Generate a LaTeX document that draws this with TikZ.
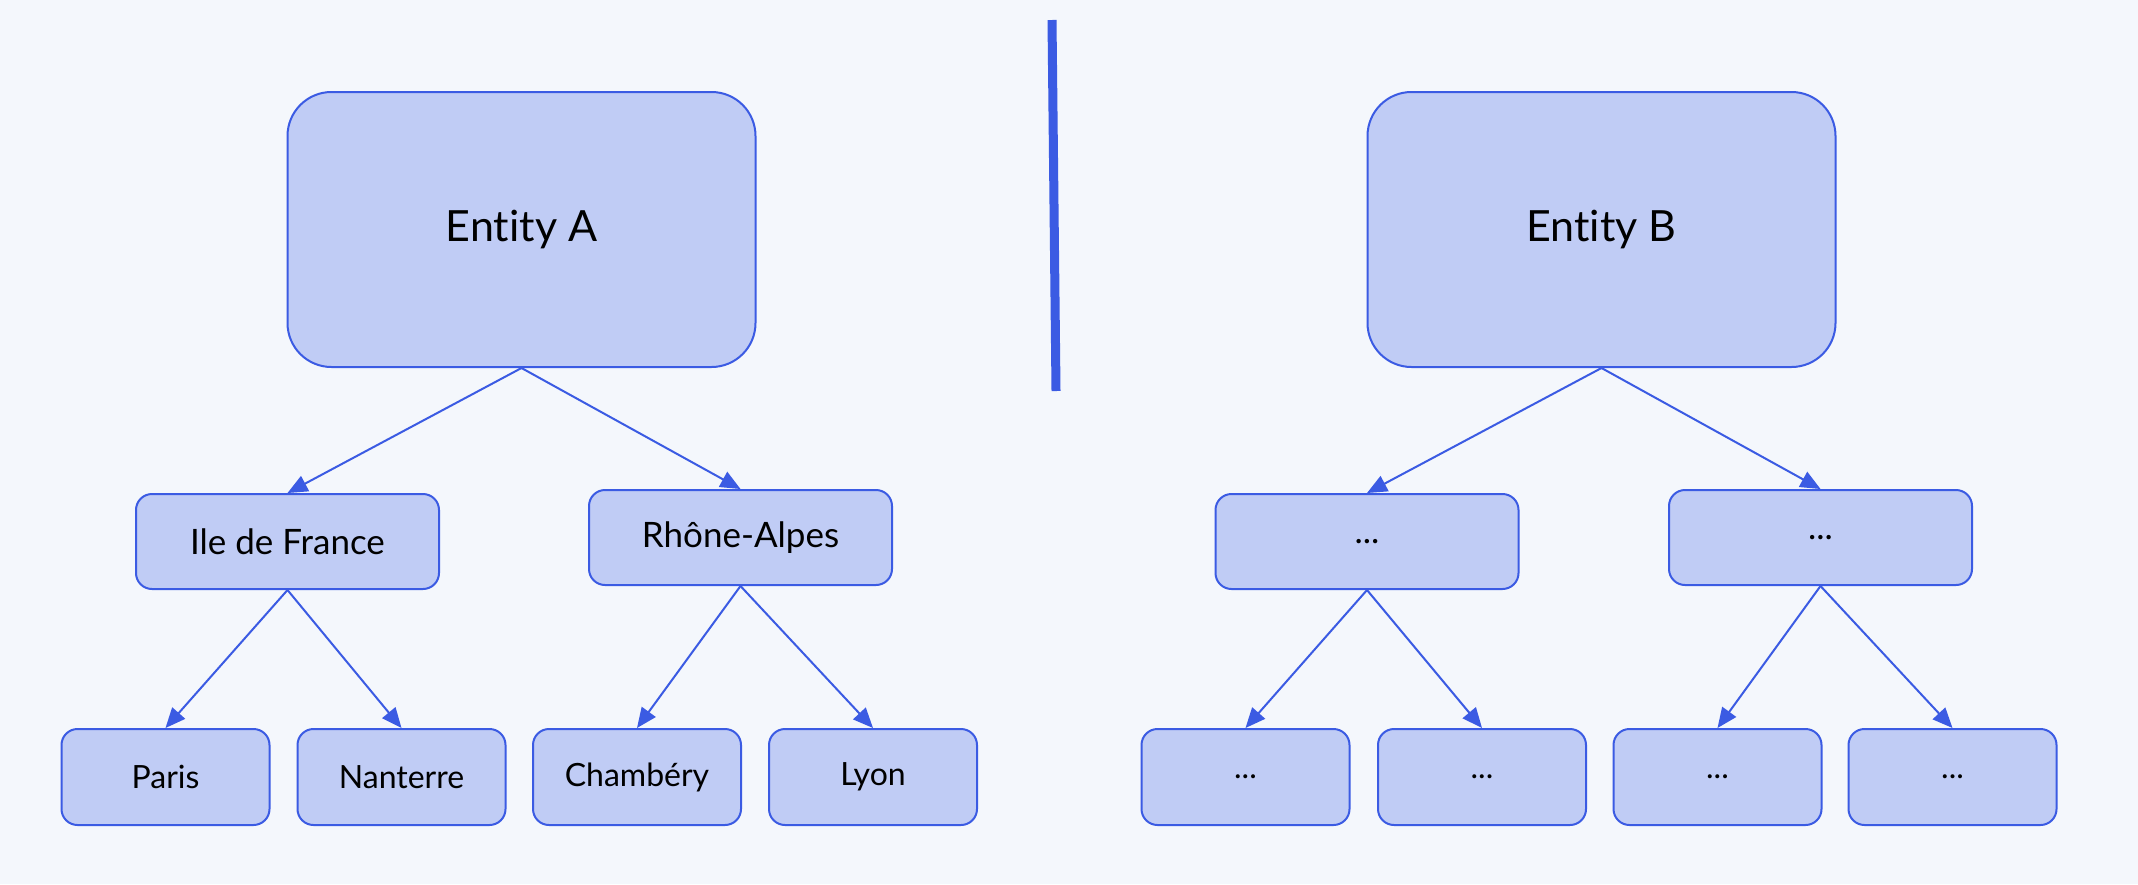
\documentclass[tikz,border=0pt]{standalone}
\usepackage{fontspec}
\setmainfont{Lato}[Ligatures={NoCommon,NoContextual}]
\usepackage{xcolor}
\usepackage{tikz}
\usetikzlibrary{arrows.meta}
\definecolor{bgcol}{RGB}{244,247,252}
\definecolor{boxfill}{RGB}{192,204,245}
\definecolor{boxline}{RGB}{59,91,227}
\tikzset{
  entbox/.style={draw=boxline,fill=boxfill,line width=2pt,rounded corners=44pt,
    minimum width=468pt,minimum height=275pt,font=\fontsize{43}{50}\selectfont},
  regbox/.style={draw=boxline,fill=boxfill,line width=2pt,rounded corners=16pt,
    minimum width=303pt,minimum height=95pt,font=\fontsize{35}{42}\selectfont},
  citybox/.style={draw=boxline,fill=boxfill,line width=2pt,rounded corners=16pt,
    minimum width=208pt,minimum height=96pt,font=\fontsize{32}{38}\selectfont},
  arr/.style={draw=boxline,line width=2pt,-{Triangle[length=20pt,width=17pt]}}
}

\begin{document}
\begin{tikzpicture}[x=1pt,y=-1pt]
\fill[bgcol] (0,0) rectangle (2138,884);
\useasboundingbox (0,0) rectangle (2138,884);

\node[entbox] (entA) at (521.5,229.5) {Entity A};
\node[entbox] (entB) at (1601.5,229.5) {Entity B};

\node[regbox] (idf) at (287.5,541.5) {Ile de France};
\node[regbox] (ra) at (740.5,537.5) {Rhône-Alpes};
\node[regbox] (b1) at (1367,541.5) {...};
\node[regbox] (b2) at (1820.5,537.5) {...};

\node[citybox] (paris) at (165.5,777) {Paris};
\node[citybox] (nanterre) at (401.5,777) {Nanterre};
\node[citybox] (chambery) at (637,777) {Chambéry};
\node[citybox] (lyon) at (873,777) {Lyon};
\node[citybox] (b11) at (1245.5,777) {...};
\node[citybox] (b12) at (1482,777) {...};
\node[citybox] (b21) at (1717.5,777) {...};
\node[citybox] (b22) at (1952.5,777) {...};

\coordinate (sepTop) at (1052,20);
\coordinate (sepBot) at (1056,391);
\draw[boxline,line width=9pt] (sepTop) -- (sepBot);

\draw[arr] (entA.south) -- (idf.north);
\draw[arr] (entA.south) -- (ra.north);
\draw[arr] (idf.south) -- (paris.north);
\draw[arr] (idf.south) -- (nanterre.north);
\draw[arr] (ra.south) -- (chambery.north);
\draw[arr] (ra.south) -- (lyon.north);

\draw[arr] (entB.south) -- (b1.north);
\draw[arr] (entB.south) -- (b2.north);
\draw[arr] (b1.south) -- (b11.north);
\draw[arr] (b1.south) -- (b12.north);
\draw[arr] (b2.south) -- (b21.north);
\draw[arr] (b2.south) -- (b22.north);
\end{tikzpicture}
\end{document}
